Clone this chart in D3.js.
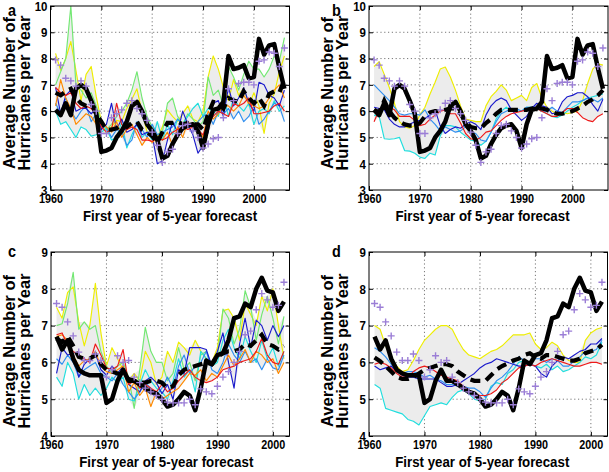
<!DOCTYPE html>
<html><head><meta charset="utf-8">
<script src="https://cdn.jsdelivr.net/npm/d3@7"></script>
<style>
body{margin:0;background:#fff}
svg{display:block}
text{font-family:"Liberation Sans",Arial,Helvetica,sans-serif;font-weight:bold;fill:#000}
</style>
</head><body>
<svg id="chart" width="609" height="472"></svg>
<script>
// ---------------- data ----------------
const yearsAB = d3.range(1961, 2007);
const yearsCD = d3.range(1961, 2003);
const xTicks = [1960, 1970, 1980, 1990, 2000];
const yTicksAB = [3, 4, 5, 6, 7, 8, 9, 10];
const yTicksCD = [4, 5, 6, 7, 8, 9];
const xLabel = "First year of 5-year forecast";
const yLabel1 = "Average Number of";
const yLabel2 = "Hurricanes per Year";
const panelLetters = ["a", "b", "c", "d"];

// observed (thick solid black) and alternate observed (+)
const obsAB = [6.05,5.85,6.3,5.85,6.85,7.0,6.85,6.4,5.9,4.45,
  4.5,4.6,5.0,5.25,5.6,6.2,6.35,6.0,5.5,5.25,
  4.9,4.2,4.3,4.75,5.1,5.35,5.45,5.5,5.25,4.6,
  5.5,6.05,6.1,6.35,8.1,7.6,7.65,7.75,7.25,7.3,
  8.75,8.15,8.5,8.55,7.65,6.85];
const plusAB = [7.95,7.75,7.25,7.15,6.95,7.15,6.95,6.25,6.0,5.15,
  5.15,5.75,5.9,6.05,6.3,6.4,6.1,5.9,5.65,5.2,
  4.7,4.05,4.45,4.55,5.15,5.45,5.5,5.25,5.0,4.6,
  4.75,4.95,5.0,5.75,6.85,6.4,7.05,7.1,7.1,7.0,
  7.9,7.95,8.25,8.2,7.7,8.4];
const obsCD = [6.7,6.35,6.6,6.1,5.8,5.7,5.65,5.65,5.65,4.9,
  5.0,5.5,5.8,5.5,5.5,5.4,5.3,5.2,5.15,5.0,
  4.8,4.85,5.0,5.2,5.1,4.7,5.3,6.05,5.95,6.2,
  6.25,6.6,7.2,7.25,7.6,7.5,8.0,8.3,7.95,7.9,
  7.4,7.65];
const plusCD = [7.6,7.5,7.1,6.72,6.28,6.05,6.05,6.23,6.05,5.6,
  5.8,6.18,6.0,6.05,5.6,5.45,5.3,5.2,5.1,5.0,
  4.92,4.9,4.9,4.9,5.0,4.85,5.28,5.2,5.15,5.35,
  5.6,5.75,6.0,6.3,6.75,6.85,7.43,7.87,7.7,7.5,
  7.55,8.18];

// ensemble means (thick dashed black)
const dashA = [6.7,6.6,6.75,6.85,6.5,6.3,6.2,6.3,5.9,5.6,
  5.3,5.3,5.35,5.5,5.4,5.55,5.6,5.3,5.2,5.05,
  4.8,5.2,5.55,5.55,5.6,5.5,5.55,5.5,5.5,5.3,
  5.9,6.35,6.3,6.1,6.5,6.4,6.35,6.75,6.5,6.3,
  6.5,6.2,6.65,6.75,6.7,7.2];
const dashB = [6.05,5.95,6.4,6.0,5.75,5.6,5.5,5.45,5.45,5.55,
  5.8,5.95,6.0,6.0,6.05,6.1,6.1,5.9,5.6,5.4,
  5.35,5.35,5.55,5.7,5.9,6.05,6.05,6.05,6.05,6.05,
  6.05,6.1,6.15,6.1,6.05,5.95,5.9,5.9,5.95,6.0,
  6.1,6.2,6.35,6.45,6.6,6.8];
const dashC = [6.65,6.55,6.7,6.45,6.15,6.1,6.1,6.2,5.95,5.8,
  5.75,5.7,5.65,5.55,5.5,5.45,5.45,5.5,5.5,5.45,
  5.3,5.35,5.65,5.8,5.85,5.9,5.95,6.0,5.95,6.15,
  6.25,6.3,6.3,6.35,6.5,6.45,6.6,6.75,6.5,6.45,
  6.35,6.45];
const dashD = [6.13,6.03,5.9,5.75,5.6,5.55,5.55,5.6,5.7,5.8,
  5.85,5.9,5.95,5.95,5.9,5.75,5.65,5.55,5.5,5.5,
  5.5,5.65,5.8,5.9,5.97,6.05,6.1,6.2,6.25,6.15,
  6.1,6.2,6.2,6.15,6.1,6.05,6.05,6.1,6.25,6.3,
  6.35,6.48];

// panel a model members
const aYellow = [8.2,7.55,8.0,8.65,7.55,6.4,7.4,7.7,6.55,5.6,
  5.15,5.4,5.65,5.6,6.1,6.45,6.85,5.95,5.2,5.2,
  5.0,5.4,6.05,5.8,5.6,5.9,6.2,5.7,5.6,6.0,
  7.3,8.1,7.6,6.9,6.4,7.2,6.6,6.9,6.2,6.7,
  6.2,5.15,6.3,6.65,7.5,8.1];
const aGreen = [7.0,7.5,8.0,10.0,7.0,6.8,6.5,6.7,6.2,5.6,
  5.3,5.5,5.8,6.0,6.3,6.8,7.5,6.5,5.8,5.4,
  5.1,5.2,6.3,6.5,5.8,5.5,5.9,5.7,5.4,5.6,
  7.3,6.6,6.8,6.2,7.7,7.3,6.8,7.4,7.9,7.6,
  7.6,7.3,7.6,8.1,7.9,8.8];
const aCyan = [6.0,5.5,5.6,5.3,5.0,5.4,5.3,5.05,5.1,5.2,
  5.35,4.9,5.0,5.6,4.6,5.1,5.5,5.0,5.2,4.9,
  5.6,4.9,5.5,5.1,5.7,5.5,5.8,6.1,6.3,5.8,
  6.1,6.0,5.8,6.6,5.8,6.5,6.2,6.0,6.3,5.5,
  6.0,6.1,5.9,6.4,6.0,6.2];
const aLightBlue = [6.3,5.9,6.5,6.0,5.7,6.0,6.2,5.6,5.9,5.5,
  5.4,5.0,5.3,5.2,4.7,4.9,5.6,5.3,5.0,5.5,
  5.1,5.2,5.3,5.4,5.7,5.5,5.4,5.2,5.6,5.8,
  5.9,5.5,6.0,5.9,6.1,5.7,6.0,5.6,5.8,6.2,
  5.5,5.7,6.0,6.3,6.2,5.6];
const aBlue = [6.9,5.9,6.6,6.8,6.0,6.1,6.1,5.9,6.1,5.3,
  5.5,6.3,5.3,5.7,5.2,5.3,5.5,5.1,5.2,5.1,
  4.0,4.1,4.9,5.6,5.2,6.0,5.5,5.1,4.4,4.7,
  5.2,6.3,6.4,5.8,6.9,6.2,6.5,6.9,6.3,6.0,
  7.1,7.0,6.6,6.5,6.2,6.8];
const aOrange = [6.2,7.2,6.5,6.1,5.5,5.7,5.9,5.8,5.5,5.6,
  5.4,5.2,5.6,5.0,5.3,5.5,5.1,4.7,5.0,4.8,
  5.0,4.9,5.2,4.7,5.4,5.0,5.6,5.4,5.3,5.0,
  6.0,5.7,5.9,6.2,6.2,6.0,6.2,6.6,6.3,6.2,
  6.1,6.2,6.5,6.8,7.0,6.5];
const aRed = [6.9,6.7,6.6,6.7,6.3,6.1,6.2,6.1,5.9,5.4,
  5.2,5.3,6.3,5.5,5.3,5.4,5.3,4.9,4.9,4.85,
  5.0,4.9,5.0,5.2,5.3,5.4,5.3,5.4,5.3,5.1,
  5.6,5.8,6.0,5.9,5.8,6.3,6.2,6.3,6.5,5.9,
  5.9,5.95,6.0,6.2,6.3,6.0];

// panel b model members (smoothed)
const bYellow = [7.7,7.88,7.4,6.9,6.3,5.6,5.4,5.35,5.45,5.85,
  6.15,6.65,7.1,7.6,7.68,7.3,6.8,6.2,5.7,5.65,
  5.6,5.6,6.2,6.55,6.75,7.0,6.8,6.4,6.5,6.6,
  6.4,6.9,7.05,6.5,6.15,6.0,5.9,5.95,5.9,5.95,
  6.0,6.4,7.05,7.6,7.8,7.75];
const bCyan = [5.85,5.8,4.95,4.93,4.95,5.0,4.5,4.48,4.4,4.25,
  4.2,4.4,4.33,5.05,5.45,5.45,5.4,5.2,5.05,4.9,
  4.85,4.7,4.85,5.2,5.7,6.0,6.15,6.0,6.0,6.0,
  6.15,6.15,6.1,6.0,5.9,5.8,5.75,5.85,6.0,6.15,
  6.25,6.4,6.5,6.55,6.6,6.65];
const bLightBlue = [7.0,6.8,6.6,6.4,6.15,5.9,5.85,5.9,5.9,5.85,
  6.05,5.7,5.5,5.25,5.4,5.3,5.2,5.25,5.4,5.2,
  5.15,4.9,4.85,5.2,5.6,5.9,6.0,6.1,6.1,6.0,
  6.15,6.15,6.15,6.0,6.0,6.15,6.0,5.95,6.15,6.35,
  6.35,6.4,6.5,6.45,6.35,6.5];
const bBlue = [6.15,6.1,6.05,5.7,5.5,5.4,5.4,5.5,5.6,5.65,
  5.72,5.85,6.05,5.45,5.15,5.3,5.4,5.35,5.5,5.6,
  5.5,5.3,5.85,6.2,6.4,6.5,6.4,6.05,5.85,5.65,
  5.8,6.1,6.3,6.2,6.15,5.9,5.95,6.35,6.55,6.6,
  6.7,6.7,6.55,6.25,6.0,6.45];
const bRed = [5.6,6.05,6.15,6.15,6.05,5.8,5.8,5.8,5.65,5.45,
  5.5,5.7,5.85,6.0,6.05,5.9,5.9,5.55,5.15,4.95,
  4.9,5.0,5.2,5.25,5.45,5.65,5.8,5.9,5.95,6.0,
  6.05,6.1,6.1,6.0,5.9,5.8,5.8,5.95,6.1,6.1,
  5.95,5.75,5.65,5.6,5.8,5.9];

// panel c model members
const cYellow = [7.5,7.2,7.9,8.05,7.1,6.45,7.0,8.15,6.8,5.9,
  6.4,6.1,5.8,5.5,5.7,5.5,6.3,6.0,5.4,5.6,
  6.3,6.0,6.55,6.4,6.2,6.6,6.3,6.1,6.0,6.4,
  7.4,7.45,7.2,6.6,7.6,7.3,7.0,7.8,7.4,8.0,
  7.0,6.1];
const cGreen = [7.0,7.05,7.6,8.45,6.9,7.1,6.9,7.0,6.3,5.9,
  5.7,5.9,6.0,5.6,4.75,5.8,6.95,6.3,6.0,6.0,
  5.5,5.7,6.4,5.8,6.0,5.5,6.2,6.3,5.9,6.1,
  7.45,7.2,6.5,6.9,7.95,7.5,6.6,7.3,7.8,7.2,
  6.5,7.25];
const cCyan = [5.6,5.35,6.0,5.7,5.0,5.4,5.1,5.3,5.1,5.3,
  5.6,5.45,5.6,5.0,4.95,5.4,5.8,5.5,5.3,5.2,
  5.0,5.5,6.1,5.6,5.8,5.2,6.3,6.1,5.9,6.0,
  6.6,6.9,6.4,6.1,6.7,6.3,6.0,6.6,6.1,6.4,
  5.9,6.3];
const cLightBlue = [6.1,5.95,6.2,6.0,5.6,5.8,5.9,6.0,5.7,5.6,
  5.5,5.7,5.4,5.2,5.0,5.2,5.45,5.3,5.1,5.3,
  5.6,5.3,5.9,6.2,5.7,5.9,6.0,6.3,5.8,5.7,
  6.0,6.5,6.2,6.0,6.3,6.0,6.1,5.8,6.1,5.85,
  5.8,6.2];
const cBlue = [5.7,6.4,6.2,6.25,5.6,5.95,6.1,6.25,5.8,5.65,
  5.9,5.7,5.9,5.4,5.3,5.2,5.5,5.6,5.45,5.15,
  5.4,5.0,5.8,5.7,6.4,6.4,6.4,6.35,5.9,6.3,
  6.8,6.0,5.3,6.5,7.2,6.4,7.15,7.0,6.6,7.0,
  6.7,7.0];
const cOrange = [6.7,6.75,6.6,6.2,5.9,6.05,6.1,6.3,5.9,5.75,
  5.7,5.8,5.9,5.2,5.45,5.1,5.3,4.8,5.2,5.0,
  5.1,5.2,5.3,5.5,5.7,5.65,5.8,5.5,5.7,5.6,
  5.9,6.2,5.9,6.1,6.35,6.0,6.3,6.2,6.0,6.1,
  5.7,6.0];
const cRed = [6.75,6.8,6.45,6.3,6.2,6.1,6.0,6.5,6.2,5.85,
  5.8,5.9,6.35,5.4,5.5,5.3,5.4,5.3,5.2,5.4,
  5.2,5.3,5.5,5.65,5.8,5.6,5.5,5.45,5.5,5.6,
  5.8,5.85,5.9,6.0,6.05,6.1,6.3,6.65,6.2,6.0,
  5.95,6.3];

// panel d model members (smoothed)
const dYellow = [7.0,6.9,6.45,6.1,5.9,5.75,5.8,6.05,6.35,6.6,
  6.75,6.9,7.0,7.0,6.9,6.6,6.35,6.2,6.15,6.1,
  6.2,6.3,6.35,6.45,6.6,6.75,6.75,6.75,6.8,6.5,
  6.35,6.4,6.55,6.45,6.2,6.05,6.0,6.0,6.6,6.8,
  6.9,6.95];
const dCyan = [5.4,5.3,4.75,4.7,4.65,4.6,4.45,4.4,4.3,4.55,
  4.8,4.85,4.9,4.85,5.05,5.2,5.25,5.15,5.0,4.95,
  5.0,5.35,5.45,5.4,5.7,5.8,6.0,6.05,5.95,5.9,
  5.85,5.95,5.8,5.9,5.75,5.8,5.9,6.0,6.15,6.1,
  6.2,6.55];
const dLightBlue = [6.4,6.3,6.15,5.95,5.75,5.7,5.75,5.75,5.7,5.6,
  5.65,5.55,5.5,5.4,5.4,5.35,5.35,5.3,5.3,5.2,
  5.05,5.3,5.5,5.6,5.75,5.95,6.15,6.05,6.0,6.1,
  6.1,6.0,6.1,6.05,5.9,5.9,6.05,6.15,6.3,6.3,
  6.35,6.6];
const dBlue = [5.9,5.8,5.85,5.9,5.75,5.65,5.6,5.6,5.55,5.55,
  5.55,5.55,5.45,5.35,5.35,5.4,5.5,5.6,5.7,5.85,
  5.95,6.0,6.1,6.05,6.0,5.95,5.9,5.9,5.95,5.9,
  5.7,5.6,5.9,6.05,6.15,6.1,6.2,6.3,6.35,6.5,
  6.5,6.65];
const dRed = [5.95,6.0,5.95,5.85,5.7,5.6,5.6,5.75,5.85,5.9,
  5.85,5.75,5.65,5.6,5.55,5.5,5.35,5.25,5.15,5.1,
  5.1,5.15,5.25,5.45,5.55,5.7,5.85,5.9,5.95,5.9,
  6.0,6.05,6.1,6.05,6.0,5.95,5.9,5.9,5.95,6.0,
  6.0,5.95];

const modelColors = {
  yellow: "#eeee00", green: "#72e872", cyan: "#20dede",
  lightblue: "#2f8ff0", blue: "#1a1acc", orange: "#ff8a00", red: "#ee1a1a"
};
const plusColor = "#9b7ed6";
const bandColor = "#ececec";

// ---------------- drawing ----------------
const svg = d3.select("#chart");

const panels = [
  {letter: panelLetters[0], years: yearsAB, yTicks: yTicksAB, xMax: 2007,
   box: {l: 50.5, t: 6, r: 289.5, b: 190}, lab: {x: 8, y: 16, yc: 93, xs: 0},
   models: {yellow: aYellow, green: aGreen, cyan: aCyan, lightblue: aLightBlue, blue: aBlue, orange: aOrange, red: aRed},
   dashed: dashA, obs: obsAB, plus: plusAB},
  {letter: panelLetters[1], years: yearsAB, yTicks: yTicksAB, xMax: 2007,
   box: {l: 369, t: 6, r: 608, b: 190}, lab: {x: 332, y: 16, yc: 93, xs: -6},
   models: {yellow: bYellow, cyan: bCyan, lightblue: bLightBlue, blue: bBlue, red: bRed},
   dashed: dashB, obs: obsAB, plus: plusAB},
  {letter: panelLetters[2], years: yearsCD, yTicks: yTicksCD, xMax: 2003,
   box: {l: 51, t: 252, r: 289.5, b: 436}, lab: {x: 8, y: 257, yc: 351, xs: -4},
   models: {yellow: cYellow, green: cGreen, cyan: cCyan, lightblue: cLightBlue, blue: cBlue, orange: cOrange, red: cRed},
   dashed: dashC, obs: obsCD, plus: plusCD},
  {letter: panelLetters[3], years: yearsCD, yTicks: yTicksCD, xMax: 2003,
   box: {l: 369, t: 252, r: 607.5, b: 436}, lab: {x: 332, y: 257, yc: 351, xs: -6},
   models: {yellow: dYellow, cyan: dCyan, lightblue: dLightBlue, blue: dBlue, red: dRed},
   dashed: dashD, obs: obsCD, plus: plusCD}
];

function squeeze(sel, f) {
  sel.each(function() {
    const len = this.getComputedTextLength();
    d3.select(this).attr("textLength", len * f).attr("lengthAdjust", "spacingAndGlyphs");
  });
}

panels.forEach((p, pi) => {
  const B = p.box;
  const g = svg.append("g");
  const x = d3.scaleLinear().domain([1960, p.xMax]).range([B.l, B.r]);
  const y = d3.scaleLinear().domain([p.yTicks[0], p.yTicks[p.yTicks.length - 1]]).range([B.b, B.t]);
  const clipId = "clip" + pi;
  svg.append("clipPath").attr("id", clipId).append("rect")
    .attr("x", B.l).attr("y", B.t).attr("width", B.r - B.l).attr("height", B.b - B.t);

  // grid
  const grid = g.append("g").attr("stroke", "#555").attr("stroke-width", 0.8).attr("stroke-dasharray", "1.2,2.6");
  grid.selectAll("line.vx").data(xTicks.filter(t => t > 1960)).enter().append("line")
    .attr("x1", d => x(d)).attr("x2", d => x(d)).attr("y1", B.t).attr("y2", B.b);
  grid.selectAll("line.hy").data(p.yTicks.slice(1, -1)).enter().append("line")
    .attr("y1", d => y(d)).attr("y2", d => y(d)).attr("x1", B.l).attr("x2", B.r);

  const plot = g.append("g").attr("clip-path", `url(#${clipId})`);
  const keys = Object.keys(p.models);
  const band = p.years.map((yr, i) => ({
    yr, lo: d3.min(keys, k => p.models[k][i]), hi: d3.max(keys, k => p.models[k][i])
  }));
  plot.append("path").datum(band)
    .attr("fill", bandColor).attr("stroke", "none")
    .attr("d", d3.area().x(d => x(d.yr)).y0(d => y(d.lo)).y1(d => y(d.hi)));

  const line = d3.line().x((d, i) => x(p.years[i])).y(d => y(d));
  keys.forEach(k => {
    plot.append("path").datum(p.models[k])
      .attr("fill", "none").attr("stroke", modelColors[k]).attr("stroke-width", 1.15)
      .attr("stroke-linejoin", "round").attr("d", line);
  });
  plot.append("path").datum(p.dashed)
    .attr("fill", "none").attr("stroke", "#000").attr("stroke-width", 4.2)
    .attr("stroke-dasharray", "10,6").attr("d", line);
  plot.append("path").datum(p.obs)
    .attr("fill", "none").attr("stroke", "#000").attr("stroke-width", 4.5)
    .attr("stroke-linejoin", "round").attr("d", line);
  plot.selectAll("path.plus").data(p.plus).enter().append("path")
    .attr("transform", (d, i) => `translate(${x(p.years[i])},${y(d)})`)
    .attr("d", "M-3.5,0H3.5M0,-3.5V3.5")
    .attr("stroke", plusColor).attr("stroke-width", 1.4).attr("fill", "none");

  // axes
  const ax = g.append("g").attr("transform", `translate(0,${B.b})`)
    .call(d3.axisBottom(x).tickValues(xTicks).tickFormat(d3.format("d")).tickSizeInner(-4).tickSizeOuter(0).tickPadding(3));
  const ay = g.append("g").attr("transform", `translate(${B.l},0)`)
    .call(d3.axisLeft(y).tickValues(p.yTicks).tickFormat(d3.format("d")).tickSizeInner(-4).tickSizeOuter(0).tickPadding(3));
  g.append("g").attr("transform", `translate(0,${B.t})`)
    .call(d3.axisTop(x).tickValues(xTicks).tickFormat("").tickSizeInner(-4).tickSizeOuter(0));
  g.append("g").attr("transform", `translate(${B.r},0)`)
    .call(d3.axisRight(y).tickValues(p.yTicks).tickFormat("").tickSizeInner(-4).tickSizeOuter(0));
  g.selectAll(".domain").remove();
  g.selectAll(".tick line").attr("stroke", "#000");
  [ax, ay].forEach(a => a.selectAll("text").attr("font-size", 13.5)
    .style("font-family", '"Liberation Sans",Arial,sans-serif').style("font-weight", "bold").attr("fill", "#000"));
  squeeze(ax.selectAll("text"), 0.8);
  squeeze(ay.selectAll("text"), 0.85);

  g.append("rect").attr("x", B.l).attr("y", B.t).attr("width", B.r - B.l).attr("height", B.b - B.t)
    .attr("fill", "none").attr("stroke", "#000").attr("stroke-width", 1);

  // labels
  const xl = g.append("text").attr("x", (B.l + B.r) / 2 + p.lab.xs).attr("y", B.b + 31)
    .attr("text-anchor", "middle").attr("font-size", 15).text(xLabel);
  squeeze(xl, 0.885);
  g.append("text").attr("transform", `translate(${B.l - 36},${p.lab.yc}) rotate(-90)`)
    .attr("text-anchor", "middle").attr("font-size", 16)
    .attr("textLength", 152).attr("lengthAdjust", "spacingAndGlyphs").text(yLabel1);
  g.append("text").attr("transform", `translate(${B.l - 21},${p.lab.yc}) rotate(-90)`)
    .attr("text-anchor", "middle").attr("font-size", 16)
    .attr("textLength", 155).attr("lengthAdjust", "spacingAndGlyphs").text(yLabel2);
  const lt = g.append("text").attr("x", p.lab.x).attr("y", p.lab.y).attr("font-size", 16).text(p.letter);
  squeeze(lt, 0.9);
});
</script>
</body></html>
